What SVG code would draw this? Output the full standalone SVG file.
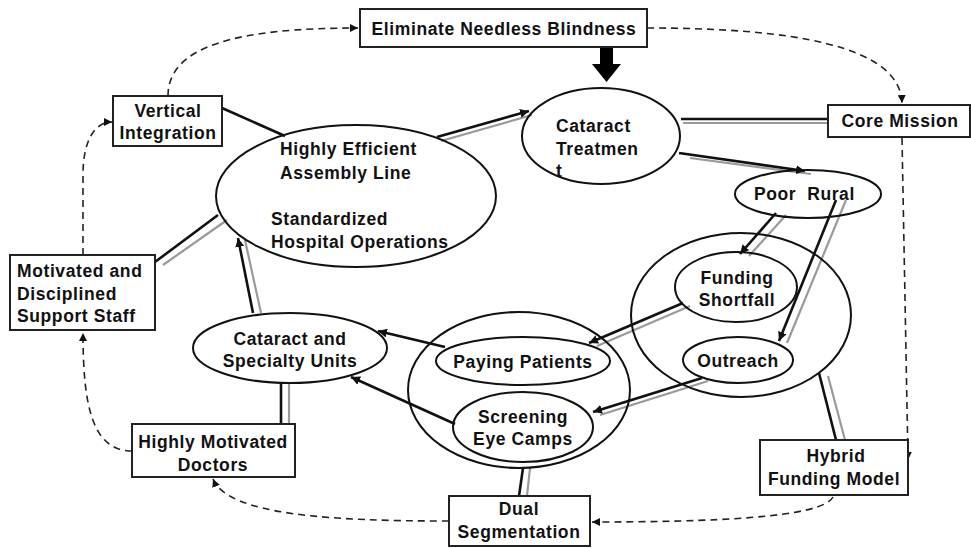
<svg xmlns="http://www.w3.org/2000/svg" width="971" height="548" viewBox="0 0 971 548">
<style>
text{font-family:"Liberation Sans",Arial,sans-serif;font-weight:bold;font-size:17.5px;letter-spacing:0.6px;fill:#111}
.c{text-anchor:middle}
.box{fill:#fff;stroke:#222;stroke-width:2}
.ell{fill:none;stroke:#111;stroke-width:2}
.ln{stroke:#111;stroke-width:2.6;fill:none}
.gr{stroke:#9a9a9a;stroke-width:2.2;fill:none}
.ds{stroke:#222;stroke-width:1.6;fill:none;stroke-dasharray:7,5}
</style>
<defs>
<marker id="ah" viewBox="0 0 10 10" refX="10" refY="5" markerWidth="9" markerHeight="9" markerUnits="userSpaceOnUse" orient="auto">
<path d="M0,0 L10,5 L0,10 z" fill="#111"/>
</marker>
<marker id="ahs" viewBox="0 0 10 10" refX="10" refY="5" markerWidth="8" markerHeight="8" markerUnits="userSpaceOnUse" orient="auto">
<path d="M0,0 L10,5 L0,10 z" fill="#111"/>
</marker>
</defs>
<rect width="971" height="548" fill="#fff"/>

<g id="connectors">
<!-- dashed loop -->
<path class="ds" d="M168,96 C168,45 240,28 358,28" marker-end="url(#ahs)"/>
<path class="ds" d="M647,28 C790,28 900,45 902,103" marker-end="url(#ahs)"/>
<path class="ds" d="M902,138 L908,460" marker-end="url(#ahs)"/>
<path class="ds" d="M833,497 C822,518 710,522 592,522" marker-end="url(#ahs)"/>
<path class="ds" d="M449,521 C330,521 228,515 213,479" marker-end="url(#ahs)"/>
<path class="ds" d="M132,451 C92,451 83,405 83,333" marker-end="url(#ahs)"/>
<path class="ds" d="M83,255 L83,175 C83,140 95,122 112,122" marker-end="url(#ahs)"/>
<!-- big arrow -->
<polygon points="600,47 613,47 613,64 621,64 606.5,82 592,64 600,64" fill="#000"/>
<!-- solid connectors -->
<line class="ln" x1="222" y1="108" x2="285" y2="136"/>
<line class="gr" x1="441" y1="141" x2="532" y2="115"/>
<line class="ln" x1="437" y1="137" x2="529" y2="111" marker-end="url(#ah)"/>
<line class="gr" x1="163" y1="265" x2="227" y2="220"/>
<line class="ln" x1="155" y1="262" x2="218" y2="215"/>
<line class="gr" x1="261" y1="313" x2="245" y2="240"/>
<line class="ln" x1="253" y1="313" x2="238" y2="238" marker-end="url(#ah)"/>
<line class="gr" x1="289" y1="383" x2="289" y2="424"/>
<line class="ln" x1="281" y1="383" x2="281" y2="424"/>
<line class="ln" x1="445" y1="347" x2="378" y2="331" marker-end="url(#ah)"/>
<line class="ln" x1="455" y1="424" x2="351" y2="377" marker-end="url(#ah)"/>
<line class="gr" x1="690" y1="306" x2="597" y2="346"/>
<line class="ln" x1="683" y1="303" x2="589" y2="343" marker-end="url(#ah)"/>
<line class="gr" x1="708" y1="381" x2="600" y2="415"/>
<line class="ln" x1="702" y1="378" x2="593" y2="412" marker-end="url(#ah)"/>
<line class="gr" x1="690" y1="158" x2="811" y2="174"/>
<line class="ln" x1="679" y1="153" x2="805" y2="171" marker-end="url(#ah)"/>
<line class="gr" x1="683" y1="123" x2="838" y2="123"/>
<line class="ln" x1="681" y1="119" x2="828" y2="119"/>
<line class="gr" x1="786" y1="215" x2="749" y2="256"/>
<line class="ln" x1="776" y1="213" x2="740" y2="254" marker-end="url(#ah)"/>
<line class="gr" x1="846" y1="200" x2="787" y2="343"/>
<line class="ln" x1="836" y1="200" x2="779" y2="341" marker-end="url(#ah)"/>
<line class="gr" x1="828" y1="376" x2="845" y2="440"/>
<line class="ln" x1="819" y1="373" x2="836" y2="440"/>
<line class="gr" x1="530" y1="468" x2="527" y2="496"/>
<line class="ln" x1="523" y1="468" x2="519" y2="496"/>
</g>

<g id="eliminate">
<rect class="box" x="360" y="9" width="287" height="38"/>
<text x="504" y="35" class="c">Eliminate Needless Blindness</text>
</g>
<g id="core-mission">
<rect class="box" x="828" y="105" width="142" height="32"/>
<text x="900" y="127" class="c">Core Mission</text>
</g>
<g id="vertical-integration">
<rect class="box" x="113" y="96" width="109" height="50"/>
<text x="168" y="117" class="c">Vertical</text>
<text x="168" y="139" class="c">Integration</text>
</g>
<g id="support-staff">
<rect class="box" x="10" y="255" width="145" height="75"/>
<text x="17" y="277">Motivated and</text>
<text x="17" y="300">Disciplined</text>
<text x="17" y="322">Support Staff</text>
</g>
<g id="doctors">
<rect class="box" x="132" y="424" width="163" height="53"/>
<text x="213" y="448" class="c">Highly Motivated</text>
<text x="213" y="471" class="c">Doctors</text>
</g>
<g id="dual-segmentation">
<rect class="box" x="449" y="496" width="141" height="50"/>
<text x="519" y="515" class="c">Dual</text>
<text x="519" y="538" class="c">Segmentation</text>
</g>
<g id="hybrid-funding">
<rect class="box" x="760" y="440" width="148" height="55"/>
<text x="836" y="462" class="c">Hybrid</text>
<text x="834" y="485" class="c">Funding Model</text>
</g>

<g id="assembly-line">
<ellipse class="ell" cx="356" cy="196" rx="140" ry="71"/>
<text x="280" y="155">Highly Efficient</text>
<text x="280" y="179">Assembly Line</text>
<text x="271" y="225">Standardized</text>
<text x="271" y="248">Hospital Operations</text>
</g>
<g id="cataract-treatment">
<ellipse class="ell" cx="601" cy="136" rx="79" ry="48"/>
<text x="556" y="132">Cataract</text>
<text x="556" y="155">Treatmen</text>
<text x="556" y="177">t</text>
</g>
<g id="poor-rural">
<ellipse class="ell" cx="808" cy="194" rx="73" ry="24"/>
<text x="754" y="200" xml:space="preserve">Poor  Rural</text>
</g>
<g id="funding-outreach-group">
<ellipse class="ell" cx="741" cy="315" rx="110" ry="82"/>
</g>
<g id="funding-shortfall">
<ellipse class="ell" cx="736" cy="287" rx="61" ry="35"/>
<text x="737" y="284" class="c">Funding</text>
<text x="737" y="306" class="c">Shortfall</text>
</g>
<g id="outreach">
<ellipse class="ell" cx="738" cy="360" rx="55" ry="23"/>
<text x="738" y="367" class="c">Outreach</text>
</g>
<g id="patients-group">
<ellipse class="ell" cx="519" cy="390" rx="111" ry="78"/>
</g>
<g id="paying-patients">
<ellipse class="ell" cx="523" cy="361" rx="87" ry="24"/>
<text x="523" y="368" class="c">Paying Patients</text>
</g>
<g id="screening-camps">
<ellipse class="ell" cx="523" cy="427" rx="70" ry="35"/>
<text x="523" y="423" class="c">Screening</text>
<text x="523" y="445" class="c">Eye Camps</text>
</g>
<g id="specialty-units">
<ellipse class="ell" cx="290" cy="348" rx="97" ry="35"/>
<text x="290" y="345" class="c">Cataract and</text>
<text x="290" y="367" class="c">Specialty Units</text>
</g>
</svg>
